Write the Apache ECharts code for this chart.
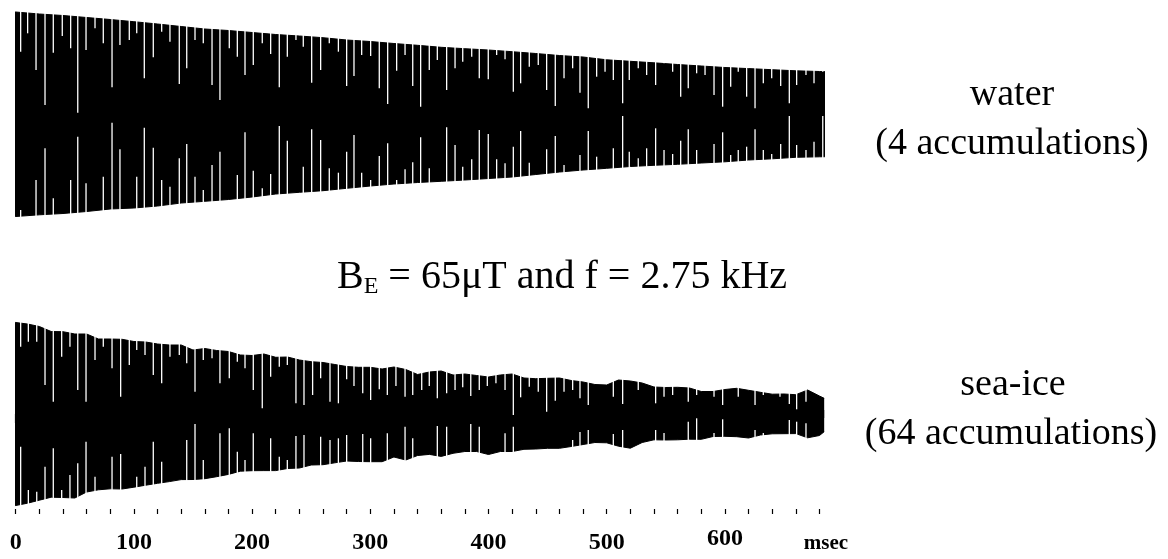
<!DOCTYPE html>
<html><head><meta charset="utf-8">
<script src="https://cdn.jsdelivr.net/npm/echarts@6/dist/echarts.min.js"></script>
<style>html,body{margin:0;padding:0;background:#fff}#c{width:1168px;height:559px}</style>
</head><body><div id="c"></div>
<script>
// ---- data (time in msec, amplitude in arbitrary units) ----
const tickLabels = [0, 100, 200, 300, 400, 500, 600];
const axisMax = 683;

const waterTime = [-2, 0, 20, 40, 60, 80, 100, 120, 140, 160, 180, 200, 220, 240, 260, 280, 300, 320, 340, 360, 380, 400, 420, 440, 460, 480, 500, 520, 540, 560, 580, 600, 620, 640, 660, 680, 686];
const waterUpper = [102.3, 102, 100, 98.5, 96.5, 94.5, 92.3, 90, 87.5, 85, 83.5, 81.5, 79.5, 78, 76.3, 74, 72.5, 70.5, 68.7, 66.7, 65.3, 64, 62.3, 60.5, 58.5, 57, 54.2, 52.7, 51.2, 49.5, 48, 46.5, 45.4, 44.3, 43.2, 42.5, 42.3];
const waterLower = [-102.7, -102.5, -100.8, -99.5, -97.5, -95, -94, -92, -89, -87.3, -85.5, -83, -80, -78.3, -76.7, -74.3, -72, -70, -68.5, -67.3, -66, -64.5, -63, -60.5, -58, -56, -54.3, -52.5, -51.3, -50.3, -49, -47.8, -46, -44.8, -43.3, -42.8, -42.7];

const iceTime = [-2, 0, 10, 20, 30, 40, 50, 60, 70, 80, 90, 100, 110, 120, 130, 140, 150, 160, 170, 180, 190, 200, 210, 220, 230, 240, 250, 260, 270, 280, 290, 300, 310, 320, 330, 340, 350, 360, 370, 380, 390, 400, 410, 420, 430, 440, 450, 460, 470, 480, 490, 500, 510, 520, 530, 540, 550, 560, 570, 580, 590, 600, 610, 620, 630, 640, 650, 660, 670, 680, 684];
const iceUpper = [92.3, 91.5, 90, 87.5, 82.5, 82.3, 80, 80, 75, 75, 74.7, 72.5, 72, 70, 69, 69, 64, 65.5, 63.5, 62.5, 59, 58.5, 60, 56.7, 57, 54, 52.3, 51.5, 49.5, 47.5, 46.7, 46.7, 45, 47, 44.5, 39.5, 42, 43, 39, 40, 38.5, 37, 39, 40, 36, 35.3, 35.7, 36, 33.5, 32, 29.5, 29, 34, 33, 31, 27, 26.5, 26.7, 26, 22.5, 22.5, 24.5, 25.7, 23.7, 21.7, 19.8, 20, 19.3, 24, 18, 15.7];
const iceLower = [-92, -91.5, -89.2, -86.2, -83.2, -83.5, -84, -78, -75.8, -74.8, -75, -73.2, -71.2, -69.3, -67.6, -65.6, -65.5, -64.7, -62.7, -60.4, -57.2, -56.7, -56.6, -56.6, -54.5, -54, -51, -50.7, -48.8, -47, -47.5, -47.7, -47.7, -43, -46, -41.5, -40.4, -42.4, -39.3, -37.5, -37.5, -40.5, -37.5, -37.5, -35.3, -35, -34.3, -34.3, -32.5, -30.5, -28.5, -28.8, -32.2, -34.2, -28.5, -25.8, -26, -25.8, -25.2, -25.3, -22.5, -22.3, -22.7, -24, -21, -19.8, -19.7, -19.6, -23.8, -21.5, -17.7];

// aliasing gaps of the sampled trace: [time, depth the white gap reaches]
const waterGapsTop = [[4.2,62.3],[10.1,80.7],[17.2,44],[24.8,9],[31.8,61.3],[39.4,78],[46.5,65.7],[52.5,1.3],[59.5,64],[67.1,85.7],[74.1,70.7],[81.5,26.7],[88.2,69],[96.1,74],[102.4,80.7],[108.8,35.7],[116.4,56.7],[123.5,82.3],[130.5,72.3],[138.4,30],[144.7,45.7],[151.7,74],[158.7,70.7],[166.1,29],[172.8,14],[180.7,65.7],[187.5,57.3],[194,39],[201,49],[208.6,70.7],[215.7,60],[223,26.7],[229.8,57.3],[237.1,74],[243.3,67.3],[250.4,31.3],[258,44],[265.3,70.7],[273,62.3],[280,28],[286.2,38],[292.7,59],[300.3,58],[307.6,25.7],[314.7,10],[322.3,43.3],[329.4,59],[335.9,28],[342.6,7.3],[349.9,44],[356.7,54],[364.6,24],[371.7,45.7],[378.2,52.3],[385.8,57.3],[392.2,35.7],[399.8,34.7],[406.9,59],[414,54.7],[421,22.3],[427.2,30.7],[434.5,47.3],[442.1,49],[449.2,24],[456.5,8],[463.9,35.7],[471.2,45.7],[477.4,21.3],[484.4,5.7],[491.5,37.3],[498.6,42.3],[505.6,34],[513.5,10.7],[519.1,34],[526.7,45.7],[533.8,39],[541.4,29],[548.5,50.7],[555.8,42.3],[562.6,17.3],[569,25.7],[576.1,40.7],[583.2,39],[590.8,19],[598.1,7.3],[604.9,27.3],[611.3,42.3],[618.4,17.3],[625.5,5.7],[632.5,30.7],[639.6,35.7],[647.2,28],[654.5,10.7],[660.7,29],[668.6,39],[675.4,30.7],[682.8,42.3]];
const waterGapsBottom = [[4.2,-96],[17.2,-66],[24.8,-34.3],[31.8,-84.3],[46.5,-66],[52.5,-22.7],[59.5,-69.3],[74.1,-62.7],[81.5,-8.7],[88.2,-35.3],[102.4,-62.7],[108.8,-13.7],[116.4,-33.7],[123.5,-66],[130.5,-72.7],[138.4,-44.3],[144.7,-30],[151.7,-62.7],[158.7,-76],[166.1,-51],[172.8,-37.7],[187.5,-61],[194,-18.3],[201,-56.7],[208.6,-74.3],[215.7,-60],[223,-12],[229.8,-26.7],[243.3,-52.7],[250.4,-15.3],[258,-26],[265.3,-54.3],[273,-58.7],[280,-37.7],[286.2,-21],[292.7,-58.7],[300.3,-66],[307.6,-42],[314.7,-29.3],[322.3,-66],[329.4,-55.3],[335.9,-48.3],[342.6,-23.3],[349.9,-54.3],[364.6,-13.3],[371.7,-31],[378.2,-52.7],[385.8,-45.3],[392.2,-16],[399.8,-20],[406.9,-45.3],[414,-49.3],[421,-32.7],[427.2,-17],[434.5,-48.7],[449.2,-35.3],[456.5,-22],[463.9,-51],[477.4,-41],[484.4,-17],[491.5,-42.7],[505.6,-34.3],[513.5,-2],[519.1,-37.7],[526.7,-44.3],[533.8,-34.3],[541.4,-14.3],[548.5,-36],[555.8,-40],[562.6,-26.7],[569,-15.3],[576.1,-36],[590.8,-30],[598.1,-18.3],[604.9,-41],[611.3,-36],[618.4,-32.7],[625.5,-15.3],[632.5,-36],[639.6,-40],[647.2,-30],[654.5,-2],[660.7,-31],[668.6,-36],[675.4,-27.7],[682.8,-2]];
const iceGapsTop = [[4.2,67.3],[10.7,72.3],[17.8,72.3],[24.8,29],[31.8,12.3],[38.9,57.3],[45.9,67.3],[52.5,24],[59.5,12.3],[67.1,54],[74.1,67.3],[81.5,45.7],[88.8,17.3],[96.1,49],[102.4,64],[109.4,59],[116.4,39],[123.5,30.7],[130.5,57.3],[138.4,59],[144.7,50.7],[151.7,22.3],[158.7,54],[166.1,55.7],[172.8,30.7],[180.7,35.7],[187.5,52.3],[194,45.7],[201,24],[208.6,5.7],[215.7,37.3],[223,47.3],[229.8,49],[237.1,10.7],[243.9,9],[251.2,19],[258,35.7],[265.9,12.3],[273,10.7],[280,34.7],[286.2,28],[293.6,20.7],[300.3,14],[307.6,24.7],[314.4,19],[321.7,28],[329.4,17.3],[335.9,19],[343.5,24],[349.9,28],[356.7,15.7],[364.6,20.7],[371.7,24],[378.2,26.7],[385,18],[392.2,24],[399,28],[406.3,30.7],[414,24],[421,-1],[427.2,16.7],[434.5,27.3],[442.1,22.3],[449.2,2.3],[456.5,13.3],[463.9,22.3],[471.2,24],[477.4,15.7],[484.4,9],[505.6,17.3],[513.5,10],[526.7,24],[541.4,10.7],[548.5,17.3],[555.8,19],[569,12.3],[576.1,19],[590.8,17.3],[598.1,9],[611.3,17.3],[625.5,9],[632.5,19],[646.6,17.3],[654.5,10],[660.7,4.7],[668.6,12.3],[682.8,17.3]];
const iceGapsBottom = [[4.2,-32.7],[10.7,-76],[17.8,-77.7],[24.8,-52.7],[31.8,-34.3],[38.9,-76],[45.9,-61],[52.5,-49.3],[59.5,-27.7],[67.1,-62.7],[81.5,-42.7],[88.8,-40],[102.4,-62.7],[109.4,-52.7],[116.4,-27.7],[123.5,-47.7],[144.7,-26],[151.7,-10],[158.7,-46],[172.8,-19.3],[180.7,-14.3],[187.5,-37.7],[194,-46],[201,-19.3],[215.7,-24.3],[223,-42.7],[229.8,-46],[237.1,-22],[243.9,-21],[258,-22.7],[265.9,-26],[273,-24.3],[280,-21],[293.6,-20],[300.3,-24.3],[314.4,-19.3],[329.4,-12.7],[335.9,-24.3],[356.7,-12],[364.6,-12.7],[385,-10],[392.2,-12.7],[414,-19.3],[421,-12.7],[471.2,-26],[477.4,-18],[484.4,-16],[505.6,-20],[513.5,-16],[541.4,-16],[548.5,-19],[569,-7.7],[576.1,-4.3],[590.8,-19],[598.1,-5.3],[625.5,-16],[632.5,-19],[654.5,-6],[660.7,-7.7],[668.6,-9.3]];

// ---- chart ----
const zip = (t, v) => t.map((x, i) => [x, v[i]]);
const minorTicks = [];
for (let v = 0; v <= 680; v += 20) minorTicks.push(v);

function envelope(name, gi, t, v, origin) {
  return {
    name, type: 'line', xAxisIndex: gi === 0 ? 0 : 1, yAxisIndex: gi,
    data: zip(t, v), symbol: 'none', clip: false, silent: true, z: 2,
    lineStyle: { color: '#000', width: 1 },
    areaStyle: { color: '#000', opacity: 1, origin: origin }
  };
}
function gaps(name, gi, data, limit) {
  return {
    name, type: 'custom', xAxisIndex: gi === 0 ? 0 : 1, yAxisIndex: gi, data, z: 3, silent: true,
    renderItem: function (params, api) {
      const a = api.coord([api.value(0), api.value(1)]);
      const b = api.coord([api.value(0), limit]);
      return { type: 'line', shape: { x1: a[0], y1: a[1], x2: b[0], y2: b[1] },
        style: { stroke: '#ffffff', lineWidth: 1.3 } };
    }
  };
}

const serif = '"Liberation Serif", "Times New Roman", serif';
const chart = echarts.init(document.getElementById('c'), null, { renderer: 'canvas' });
chart.setOption({
  backgroundColor: '#fff',
  animation: false,
  grid: [
    { left: 15.7, width: 807.3, top: 0, height: 228 },
    { left: 15.7, width: 807.3, top: 300, height: 209 }
  ],
  xAxis: [
    { gridIndex: 0, type: 'value', min: 0, max: axisMax, show: false },
    { gridIndex: 1, type: 'value', min: 0, max: axisMax, position: 'bottom',
      splitLine: { show: false },
      axisLine: { show: true, lineStyle: { color: '#000', width: 1.2 } },
      axisTick: { show: true, inside: false, length: 9, customValues: tickLabels, lineStyle: { color: '#000', width: 1.2 } },
      axisLabel: { show: true, customValues: tickLabels, margin: 18,
        fontFamily: serif, fontWeight: 'bold', fontSize: 24, color: '#000',
        formatter: v => (v === 600 ? '{u|' + v + '}' : '{n|' + v + '}'),
        rich: { n: { fontFamily: serif, fontWeight: 'bold', fontSize: 24, lineHeight: 32, color: '#000' },
                u: { fontFamily: serif, fontWeight: 'bold', fontSize: 24, lineHeight: 24, color: '#000' } } } },
    { gridIndex: 1, type: 'value', min: 0, max: axisMax, position: 'bottom', offset: 0,
      splitLine: { show: false }, axisLine: { show: false },
      axisTick: { show: true, inside: false, length: 5, customValues: minorTicks, lineStyle: { color: '#000', width: 1.2 } },
      axisLabel: { show: false } }
  ],
  yAxis: [
    { gridIndex: 0, type: 'value', min: -114, max: 114, show: false },
    { gridIndex: 1, type: 'value', min: -95, max: 114, show: false }
  ],
  series: [
    envelope('water upper', 0, waterTime, waterUpper, -4),
    envelope('water lower', 0, waterTime, waterLower, 4),
    gaps('water gaps top', 0, waterGapsTop, 110),
    gaps('water gaps bottom', 0, waterGapsBottom, -110),
    envelope('sea-ice upper', 1, iceTime, iceUpper, -4),
    envelope('sea-ice lower', 1, iceTime, iceLower, 4),
    gaps('sea-ice gaps top', 1, iceGapsTop, 105),
    gaps('sea-ice gaps bottom', 1, iceGapsBottom, -94)
  ],
  graphic: [
    { type: 'text', x: 1012, y: 95, style: { text: 'water', font: '38px ' + serif, fill: '#000', align: 'center', verticalAlign: 'middle' } },
    { type: 'text', x: 1012, y: 144, style: { text: '(4 accumulations)', font: '38px ' + serif, fill: '#000', align: 'center', verticalAlign: 'middle' } },
    { type: 'text', x: 1013, y: 385, style: { text: 'sea-ice', font: '38px ' + serif, fill: '#000', align: 'center', verticalAlign: 'middle' } },
    { type: 'text', x: 1011, y: 434, style: { text: '(64 accumulations)', font: '38px ' + serif, fill: '#000', align: 'center', verticalAlign: 'middle' } },
    { type: 'text', x: 337, y: 277, style: {
        text: '{b|B}{s|E}{b| = 65μT and f = 2.75 kHz}', align: 'left', verticalAlign: 'middle',
        rich: { b: { fontFamily: serif, fontSize: 40, lineHeight: 44, verticalAlign: 'middle', fill: '#000', color: '#000' },
                s: { fontFamily: serif, fontSize: 24, lineHeight: 24, verticalAlign: 'bottom', fill: '#000', color: '#000' } } } },
    { type: 'text', x: 826, y: 544, style: { text: 'msec', font: 'bold 21px ' + serif, fill: '#000', align: 'center', verticalAlign: 'middle' } }
  ]
});
</script></body></html>
